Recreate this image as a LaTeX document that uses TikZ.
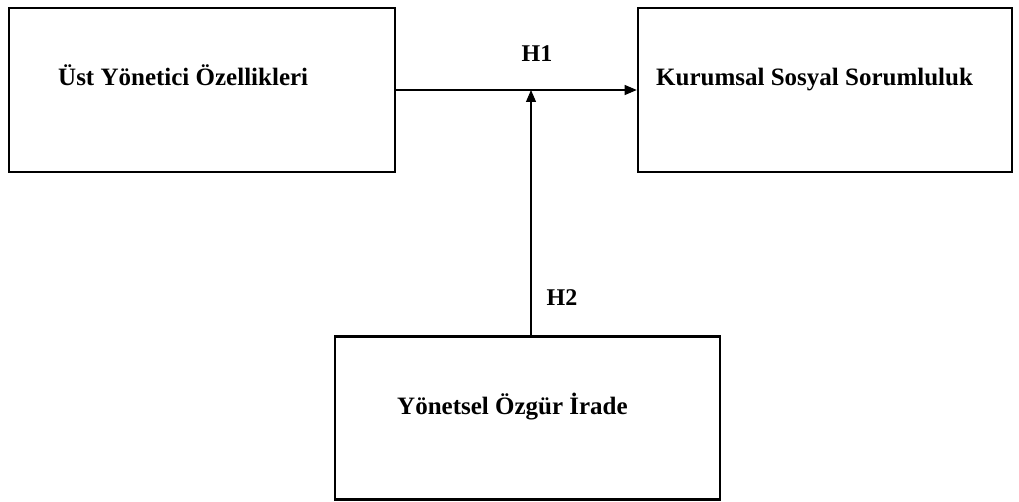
\documentclass[tikz,border=0pt]{standalone}
\usepackage{fontspec}
\setmainfont{Liberation Serif}
\usetikzlibrary{arrows.meta,calc}
\begin{document}
\begin{tikzpicture}[x=1pt,y=-1pt,
  box/.style={draw,line width=2.6pt,inner sep=0pt},
  lbl/.style={font=\fontsize{25}{28}\selectfont\bfseries,inner sep=0pt,anchor=base west},
  hyp/.style={font=\fontsize{24}{27}\selectfont\bfseries,inner sep=0pt},
  link/.style={line width=1.1pt,-{Triangle[length=12pt,width=10pt]}}]
\useasboundingbox (0,0) rectangle (1019,502);
% boxes
\node[box,minimum width=386pt,minimum height=164pt] (L) at (202,90) {};
\node[box,minimum width=374pt,minimum height=164pt] (R) at (825,90) {};
\node[box,minimum width=385pt,minimum height=163pt] (B) at (527.5,418) {};
% box texts
\node[lbl] (tL) at (58,86) {Üst Yönetici Özellikleri};
\node[lbl] (tR) at (656,86) {Kurumsal Sosyal Sorumluluk};
\node[lbl] (tB) at (397,414) {Yönetsel Özgür İrade};
% junction on the H1 path
\coordinate (J) at (531,90);
\draw[link] (L.east) -- (R.west);
\draw[link] (B.north -| J) -- (J);
% hypothesis labels
\node[hyp] (h1) at (537,54) {H1};
\node[hyp] (h2) at (562,298) {H2};
\end{tikzpicture}
\end{document}
